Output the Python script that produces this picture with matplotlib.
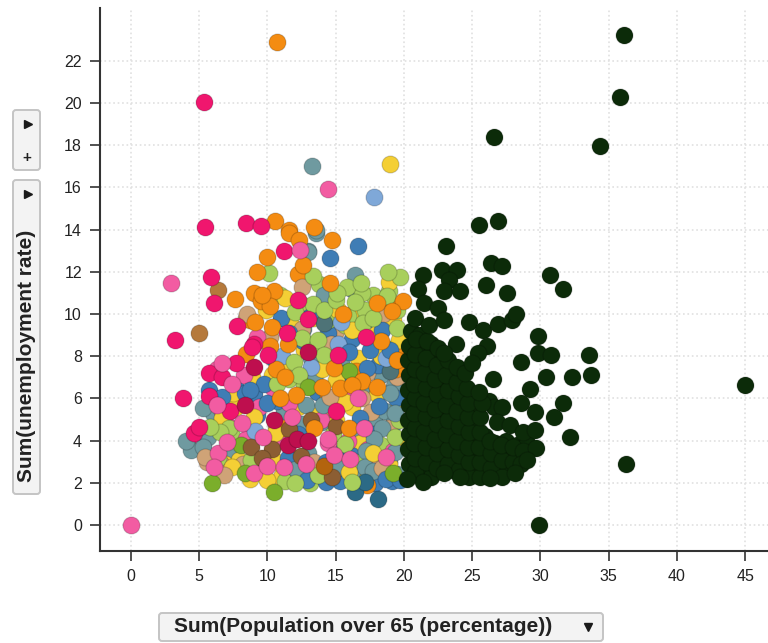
import matplotlib
matplotlib.use("Agg")
from matplotlib import pyplot as plt
from matplotlib.patches import FancyBboxPatch

plt.rcParams['font.family'] = ['Liberation Sans', 'DejaVu Sans']

x_ticks = [0, 5, 10, 15, 20, 25, 30, 35, 40, 45]
y_ticks = [0, 2, 4, 6, 8, 10, 12, 14, 16, 18, 20, 22]
x_label = "Sum(Population over 65 (percentage))"
y_label = "Sum(unemployment rate)"

# back of the pile, mostly hidden
back_slate = [(4.4, 3.9), (5.0, 4.3), (6.0, 5.3), (7.5, 3.3), (9.5, 2.6), (11.2, 5.4), (12.5, 4.8), (13.0, 3.4), (14.0, 4.9),
              (15.5, 3.6), (16.5, 4.6), (17.8, 5.0), (18.6, 5.4), (19.2, 4.8), (18.9, 3.0), (19.5, 2.4), (16.8, 2.4), (13.2, 7.9),
              (15.4, 7.7), (17.0, 6.2), (18.3, 7.1), (19.3, 6.6), (12.6, 9.3), (14.6, 10.5), (16.2, 11.2)]
back_yellow = [(6.9, 2.9), (7.9, 3.1), (8.7, 2.2), (11.0, 2.3), (12.9, 2.6), (15.3, 2.9), (17.3, 2.2), (18.9, 2.9), (19.5, 3.9),
               (16.8, 3.9), (15.0, 5.0), (13.7, 5.2), (12.2, 5.6), (10.3, 7.1), (8.9, 7.0), (7.7, 5.6), (11.2, 7.6), (12.7, 8.3),
               (14.4, 7.8), (16.6, 7.9), (18.0, 9.1), (19.2, 9.7), (16.3, 10.0), (13.3, 9.8), (11.7, 9.5), (9.9, 10.2),
               (19.6, 5.8), (18.0, 6.2), (16.2, 5.6), (10.7, 3.0)]
back_tan = [(5.6, 3.0), (6.6, 2.9), (8.2, 2.9), (10.6, 4.7), (11.8, 3.2), (14.9, 2.7), (17.6, 3.0), (18.9, 4.6), (16.9, 6.0),
            (14.4, 5.5), (12.9, 7.0), (10.2, 8.9), (8.4, 9.8), (12.5, 9.3), (15.0, 9.2), (17.3, 7.2), (19.5, 7.0), (13.4, 3.0)]
back_blue = [(5.7, 6.4), (7.6, 6.6), (9.2, 5.2), (10.7, 5.9), (12.2, 4.3), (14.3, 3.0), (16.1, 3.3), (17.8, 4.3), (19.1, 2.1),
             (17.9, 2.0), (15.3, 2.1), (13.6, 6.3), (15.7, 7.2), (12.6, 8.7), (14.4, 9.1), (16.2, 8.8), (18.1, 7.6), (19.4, 6.0),
             (10.4, 7.9), (11.6, 9.1), (13.2, 10.1), (17.2, 9.7), (9.0, 6.2), (11.5, 3.2)]
back_lime = [(6.4, 3.2), (7.4, 4.2), (8.8, 3.1), (11.3, 2.1), (13.1, 2.0), (14.8, 4.3), (16.4, 3.0), (18.3, 3.8), (19.6, 5.0),
             (14.4, 9.7), (15.7, 9.5), (17.7, 10.9), (18.3, 10.2), (16.9, 11.0), (14.8, 11.0), (13.8, 11.4), (12.4, 10.5),
             (10.9, 10.9), (18.9, 11.1), (19.5, 10.2), (19.3, 8.4), (13.1, 8.3), (11.6, 6.9), (15.9, 9.9), (12.7, 6.6)]
back_pink = [(5.3, 3.9), (6.7, 5.4), (7.1, 4.7), (8.4, 4.1), (9.4, 5.6), (10.7, 4.1), (12.2, 2.5), (14.4, 3.9), (15.9, 4.0),
             (17.4, 3.6), (19.2, 3.5), (9.2, 8.9), (10.4, 6.5), (11.6, 5.8), (8.3, 7.1), (6.3, 7.4), (13.9, 5.0), (16.2, 6.1)]
back_orange = [(9.0, 11.0), (9.5, 10.6), (12.2, 11.9), (13.1, 7.0), (14.4, 6.0), (11.3, 4.6), (17.3, 1.9), (18.8, 10.6), (16.5, 7.3),
               (19.4, 7.4), (19.6, 8.3), (8.7, 9.7)]

# colours on top
teal = [(5.3, 5.53), (5.67, 4.18), (4.37, 3.55), (4.0, 3.99), (5.3, 3.71), (13.0, 13.0), (13.55, 13.85), (16.4, 11.85), (14.14, 10.9),
        (12.8, 5.69), (14.1, 5.69), (19.0, 6.24), (19.35, 5.29), (18.36, 4.58), (17.8, 4.06), (17.2, 3.5), (17.14, 2.76), (17.7, 2.57),
        (15.2, 2.72), (12.1, 2.64), (19.35, 3.47), (13.5, 7.1), (13.25, 17.0), (13.55, 14.0), (13.0, 12.95)]
dark_slate = [(14.16, 9.56), (19.0, 7.3)]
dark_teal = [(18.1, 1.22), (16.4, 1.58), (17.15, 2.05)]
yellow = [(18.9, 11.53), (15.14, 10.19), (18.3, 8.0), (16.17, 9.24), (14.0, 7.38), (6.64, 5.05), (9.0, 5.13), (15.7, 5.85), (10.0, 2.13),
          (16.0, 2.53), (10.55, 4.35), (7.5, 6.24), (11.3, 10.74), (15.0, 6.87), (19.6, 8.77), (7.4, 2.76), (17.75, 3.4), (19.0, 17.1)]
tan = [(12.5, 11.3), (14.65, 8.56), (17.6, 5.37), (18.5, 10.0), (8.5, 10.0), (5.4, 3.24), (6.8, 2.37), (18.4, 2.68), (14.6, 6.08)]
tan_dark = [(4.95, 9.08), (6.4, 11.14)]
light_blue = [(9.1, 4.45), (13.16, 7.47), (15.4, 9.6), (15.2, 8.6), (11.04, 8.0), (18.7, 7.9), (17.8, 15.55)]
blue = [(16.6, 13.2), (14.6, 12.67), (11.0, 9.8), (9.77, 6.67), (6.64, 6.08), (8.35, 6.24), (8.7, 6.4), (10.0, 5.8), (16.0, 8.2),
        (17.26, 7.42), (16.8, 5.08), (18.2, 5.66), (17.5, 8.3), (18.4, 9.24), (19.0, 8.3), (12.9, 2.13), (14.3, 2.05), (18.7, 2.2), (19.7, 2.13)]
lime = [(10.1, 11.93), (13.3, 11.8), (15.85, 11.3), (16.85, 11.48), (19.7, 11.77), (18.85, 12.0), (18.73, 10.85), (12.0, 10.1), (13.36, 10.47),
        (14.16, 10.19), (17.15, 10.19), (16.4, 10.58), (15.0, 10.66), (17.0, 9.56), (12.5, 8.88), (13.7, 8.77), (14.14, 8.06), (11.94, 7.74),
        (12.33, 7.11), (19.46, 9.32), (17.75, 9.8), (10.67, 6.67), (7.2, 4.61), (6.5, 4.4), (15.7, 3.82), (16.2, 2.02), (19.35, 4.15),
        (13.7, 2.37), (12.0, 1.97), (5.8, 4.66), (15.06, 10.98)]
green = [(8.06, 3.79), (5.96, 2.0), (10.5, 1.58), (8.35, 2.48), (16.0, 7.3), (19.2, 2.45), (13.0, 6.55)]
brown = [(10.3, 3.59), (11.6, 4.55), (8.8, 3.68), (9.57, 3.2), (12.45, 3.27), (13.2, 5.0), (15.0, 4.7), (14.7, 2.26)]
rust = [(14.16, 2.8)]
orange = [(10.7, 22.9), (10.55, 14.4), (11.6, 14.0), (13.4, 14.1), (14.7, 13.5), (9.94, 12.68), (9.2, 12.0), (12.6, 12.32), (7.6, 10.7),
          (10.5, 11.1), (10.2, 10.4), (9.57, 10.9), (9.1, 9.64), (10.3, 9.4), (10.2, 8.48), (11.5, 8.6), (8.4, 8.1), (10.6, 7.4), (11.3, 7.03),
          (12.1, 6.16), (10.9, 6.0), (14.0, 6.56), (15.3, 6.5), (14.9, 7.42), (16.9, 6.84), (16.2, 6.63), (18.0, 6.55), (18.3, 8.7), (18.0, 10.54),
          (19.95, 10.63), (19.1, 10.15), (14.6, 11.45), (16.0, 4.6), (13.4, 4.6), (19.5, 7.8), (11.6, 13.85), (12.3, 13.5), (15.55, 10.0)]
pink = [(5.35, 20.05), (5.4, 14.1), (8.4, 14.3), (9.5, 14.15), (11.2, 13.0), (5.85, 11.75), (6.1, 10.54), (7.8, 9.43), (3.2, 8.77), (9.0, 8.6),
        (8.84, 8.45), (7.7, 7.66), (5.74, 7.22), (6.7, 7.03), (3.8, 6.0), (5.74, 6.13), (4.6, 4.35), (5.0, 4.66), (12.2, 10.66), (13.0, 9.78),
        (17.2, 8.9), (15.2, 8.06), (15.0, 5.4), (7.25, 5.4), (10.06, 8.06), (11.4, 9.08)]
light_pink = [(0.0, 0.0), (2.95, 11.45), (14.4, 15.9), (8.1, 4.82), (11.8, 5.13), (16.65, 6.0), (14.45, 4.06), (14.87, 3.32), (16.05, 3.13),
              (18.7, 3.24), (6.4, 3.43), (6.08, 2.76), (9.0, 2.48), (9.94, 2.8), (11.2, 2.73), (7.0, 3.95), (6.64, 7.66), (17.07, 4.58),
              (9.7, 4.18), (12.8, 2.9), (12.4, 13.03), (7.4, 6.7), (6.3, 5.7)]
crimson = [(9.0, 7.5), (8.35, 5.69), (10.5, 5.0), (11.5, 3.79), (12.14, 4.1), (13.0, 3.98), (13.0, 8.2)]

# the dark group, everything past x = 20
dark_outer = [(36.1, 23.2), (35.8, 20.3), (34.35, 17.95), (26.6, 18.4), (25.5, 14.2), (26.9, 14.4), (23.07, 13.22), (22.8, 12.1), (23.85, 12.1),
              (21.4, 11.85), (21.05, 11.17), (23.3, 11.6), (22.9, 11.1), (24.1, 11.07), (26.0, 11.37), (27.56, 10.98), (26.4, 12.4), (27.15, 12.27),
              (30.7, 11.85), (31.67, 11.17), (21.5, 10.5), (22.5, 10.27), (20.8, 9.8), (21.8, 9.5), (22.9, 9.7), (24.75, 9.64), (25.76, 9.24),
              (26.9, 9.53), (27.9, 9.7), (28.2, 10.0), (23.8, 8.6), (26.1, 8.5), (25.44, 8.13), (24.95, 7.66), (22.9, 8.13), (29.83, 8.96),
              (29.8, 8.17), (30.76, 8.04), (33.55, 8.06), (28.6, 7.74), (30.4, 7.03), (32.28, 7.03), (33.7, 7.11), (26.5, 6.92), (29.2, 6.43),
              (28.6, 5.77), (29.6, 5.37), (31.67, 5.77), (30.98, 5.1), (32.15, 4.15), (27.15, 5.6), (26.8, 4.9), (27.76, 4.74), (28.7, 4.42),
              (29.6, 4.5), (29.66, 3.63), (28.98, 3.08), (28.1, 2.45), (26.3, 2.21), (24.1, 2.29), (22.9, 2.45), (21.4, 2.05), (20.2, 2.2),
              (45.0, 6.65), (36.25, 2.9), (29.9, 0.0)]
dark_mass = [(20.4, 2.9), (20.3, 3.6), (20.4, 4.3), (20.3, 5.0), (20.4, 5.7), (20.3, 6.4), (20.4, 7.1), (20.3, 7.8), (20.4, 8.5), (20.5, 9.2),
             (21.2, 2.7), (21.2, 3.4), (21.1, 4.1), (21.2, 4.8), (21.1, 5.5), (21.2, 6.2), (21.1, 6.9), (21.2, 7.6), (21.3, 8.3), (21.2, 9.0),
             (22.0, 2.3), (22.0, 3.0), (21.9, 3.7), (22.0, 4.4), (21.9, 5.1), (22.0, 5.8), (21.9, 6.5), (22.0, 7.2), (22.1, 7.9), (22.0, 8.6),
             (22.8, 3.0), (22.8, 3.7), (22.7, 4.4), (22.8, 5.1), (22.7, 5.8), (22.8, 6.5), (22.7, 7.2), (23.6, 2.6), (23.6, 3.3), (23.5, 4.0),
             (23.6, 4.7), (23.5, 5.4), (23.6, 6.1), (23.5, 6.8), (23.6, 7.5), (24.4, 3.0), (24.4, 3.7), (24.3, 4.4), (24.4, 5.1), (24.3, 5.8),
             (24.2, 6.5), (24.0, 7.1), (25.2, 2.5), (25.2, 3.2), (25.1, 3.9), (25.2, 4.6), (25.1, 5.3), (25.3, 5.8), (26.0, 2.9), (26.0, 3.5),
             (25.9, 4.2), (26.2, 5.9), (26.6, 5.6), (26.8, 2.6), (26.8, 3.3), (26.7, 3.9), (27.6, 2.9), (27.6, 3.6), (27.5, 4.0), (28.4, 3.3),
             (28.3, 3.8), (29.0, 3.9),
             (20.8, 2.5), (20.8, 3.2), (20.7, 3.9), (20.8, 4.6), (20.7, 5.3), (20.8, 6.0), (20.7, 6.7), (20.8, 7.4), (20.8, 8.1), (20.9, 8.8),
             (21.6, 3.0), (21.6, 3.7), (21.5, 4.4), (21.6, 5.1), (21.5, 5.8), (21.6, 6.5), (21.5, 7.2), (21.6, 7.9), (21.7, 8.7),
             (22.4, 2.7), (22.4, 3.4), (22.3, 4.1), (22.4, 4.8), (22.3, 5.5), (22.4, 6.2), (22.3, 6.9), (22.4, 7.6), (22.5, 8.4),
             (23.2, 2.9), (23.2, 3.6), (23.1, 4.3), (23.2, 5.0), (23.1, 5.7), (23.2, 6.4), (23.1, 7.1), (23.2, 7.8),
             (24.0, 2.6), (24.0, 3.3), (23.9, 4.0), (24.0, 4.7), (23.9, 5.4), (24.0, 6.1), (23.9, 6.8), (23.9, 7.5),
             (24.8, 2.3), (24.8, 3.0), (24.7, 3.7), (24.8, 4.4), (24.7, 5.1), (24.7, 5.8), (24.6, 6.5), (24.5, 7.2),
             (25.6, 2.3), (25.6, 3.0), (25.5, 3.7), (25.6, 4.4), (25.6, 5.1), (25.7, 5.8), (25.5, 6.3),
             (26.4, 2.7), (26.4, 3.4), (26.3, 4.0), (27.2, 2.3), (27.2, 3.1), (27.1, 3.8), (28.0, 3.0), (28.0, 3.7), (28.7, 3.5), (28.6, 2.9)]

fig = plt.figure(figsize=(7.68, 6.43), dpi=100)
ax = fig.add_axes([100 / 768, 1 - 551 / 643, 668 / 768, 543 / 643])

layers = [
    (back_slate, "#6F9AA0"), (back_yellow, "#F4CF35"), (back_tan, "#CFA377"), (back_blue, "#3F7DB5"),
    (back_lime, "#A8CF5C"), (back_pink, "#F25CA2"), (back_orange, "#F48C12"),
    (teal, "#6F9AA0"), (dark_slate, "#4E7377"), (dark_teal, "#2C6A86"), (yellow, "#F4CF35"), (tan, "#CFA377"),
    (tan_dark, "#B5793C"), (light_blue, "#7FA8D8"), (blue, "#3F7DB5"), (lime, "#A8CF5C"), (green, "#7BAE2B"),
    (brown, "#8C5E33"), (rust, "#B3640E"), (orange, "#F48C12"), (pink, "#F0166E"), (light_pink, "#F25CA2"),
    (crimson, "#BE0F4E"),
    (dark_mass, "#0C2B09"), (dark_outer, "#0C2B09"),
]
for pts, color in layers:
    xs, ys = zip(*pts)
    ax.scatter(xs, ys, s=150, c=color, edgecolors="#00000030", linewidths=0.8, zorder=3, clip_on=True)

ax.set_xlim(-2.27, 46.67)
ax.set_ylim(-1.23, 24.5)
ax.set_xticks(x_ticks)
ax.set_yticks(y_ticks)
ax.grid(True, color="#e0e0e0", linestyle=":", linewidth=1.2, zorder=0)
ax.set_axisbelow(True)
ax.spines["top"].set_visible(False)
ax.spines["right"].set_visible(False)
ax.spines["left"].set_linewidth(1.5)
ax.spines["bottom"].set_linewidth(1.5)
ax.spines["left"].set_color("#333333")
ax.spines["bottom"].set_color("#333333")
ax.tick_params(length=7, width=1.2, color="#333333", labelsize=11.5, labelcolor="#222222", pad=6)

# the buttons round the plot, in screen pixels
ui = fig.add_axes([0, 0, 1, 1], facecolor="none")
ui.set_xlim(0, 768)
ui.set_ylim(643, 0)
ui.axis("off")
for bx, by, bw, bh in [(13, 110, 27, 60), (13, 180, 27, 314), (159, 613, 444, 28)]:
    ui.add_patch(FancyBboxPatch((bx, by), bw, bh, boxstyle="round,pad=0,rounding_size=3",
                                facecolor="#f3f3f3", edgecolor="#c4c4c4", linewidth=1.4))
ui.plot([28, 28], [124, 194], ">", color="#1a1a1a", ms=6, ls="none")
ui.plot([588], [627], "v", color="#1a1a1a", ms=5.5, ls="none")
ui.text(27, 158, "+", fontsize=11, fontweight="bold", color="#222222", ha="center", va="center")
ui.text(27, 356, y_label, rotation=90, fontsize=15, fontweight="bold", color="#222222", ha="center", va="center")
ui.text(174, 627, x_label, fontsize=15, fontweight="bold", color="#222222", ha="left", va="center")

fig.savefig("out.png", dpi=100)
